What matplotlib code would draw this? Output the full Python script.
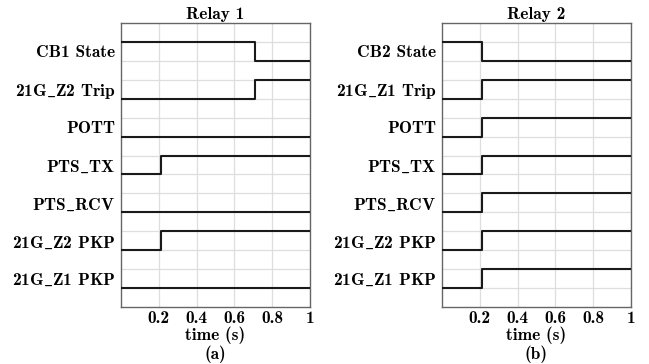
import matplotlib
matplotlib.use("Agg")
import matplotlib.pyplot as plt
import numpy as np

signals_r1 = ["CB1 State", "21G_Z2 Trip", "POTT", "PTS_TX", "PTS_RCV", "21G_Z2 PKP", "21G_Z1 PKP"]
start_r1 = [1, 0, 0, 0, 0, 0, 0]
end_r1 = [0, 1, 0, 1, 0, 1, 0]
switch_r1 = [0.71, 0.71, 0.71, 0.21, 0.21, 0.21, 0.21]

signals_r2 = ["CB2 State", "21G_Z1 Trip", "POTT", "PTS_TX", "PTS_RCV", "21G_Z2 PKP", "21G_Z1 PKP"]
start_r2 = [1, 0, 0, 0, 0, 0, 0]
end_r2 = [0, 1, 1, 1, 1, 1, 1]
switch_r2 = [0.21, 0.21, 0.21, 0.21, 0.21, 0.21, 0.21]

titles = ["Relay 1", "Relay 2"]
captions = ["(a)", "(b)"]
xticks = [0.2, 0.4, 0.6, 0.8, 1.0]
xticklabels = ["0.2", "0.4", "0.6", "0.8", "1"]

FONT = ["cmb10", "DejaVu Serif"]
plt.rcParams["font.family"] = FONT
plt.rcParams["mathtext.fontset"] = "cm"
plt.rcParams["axes.unicode_minus"] = False
FS = 12.5


def tex(s):
    return s.replace("_", r"$\_$")


fig = plt.figure(figsize=(6.49, 3.64), dpi=100)
W, H = 649, 364
axes_px = [(121, 310), (442, 631)]
top_px, bot_px = 23, 307

data = [(signals_r1, start_r1, end_r1, switch_r1), (signals_r2, start_r2, end_r2, switch_r2)]
for i, (x0, x1) in enumerate(axes_px):
    ax = fig.add_axes([x0 / W, 1 - bot_px / H, (x1 - x0) / W, (bot_px - top_px) / H])
    names, s0, s1, sw = data[i]
    n = len(names)
    for k, (nm, a, b, t) in enumerate(zip(names, s0, s1, sw)):
        base = 2 * (n - 1 - k) + 1
        xs = [0, t, 1]
        ys = [base + a, base + b, base + b]
        ax.step(xs, ys, where="post", color="#1a1a1a", lw=1.5, zorder=3)
    ax.set_xlim(0, 1)
    ax.set_ylim(0, 2 * n + 1)
    ax.set_yticks([2 * (n - 1 - k) + 1.5 for k in range(n)])
    ax.set_yticklabels([tex(s) for s in names], fontsize=FS)
    ax.set_yticks(np.arange(1, 2 * n + 1), minor=True)
    ax.set_xticks(xticks)
    ax.set_xticklabels(xticklabels, fontsize=FS)
    ax.grid(False)
    ax.grid(True, axis="y", which="minor", color="#dedede", lw=0.9, zorder=0)
    ax.grid(True, axis="x", which="major", color="#dedede", lw=0.9, zorder=0)
    ax.tick_params(which="both", length=0, pad=4)
    ax.tick_params(axis="x", pad=3)
    for sp in ax.spines.values():
        sp.set_color("#666666")
        sp.set_linewidth(1.0)
    ax.set_title(titles[i], fontsize=FS, pad=3)
    ax.set_xlabel("time (s)", fontsize=FS, labelpad=0)
    ax.text(0.5, -0.135, captions[i], transform=ax.transAxes, ha="center", va="top", fontsize=FS)

fig.savefig("out.png", dpi=100)
